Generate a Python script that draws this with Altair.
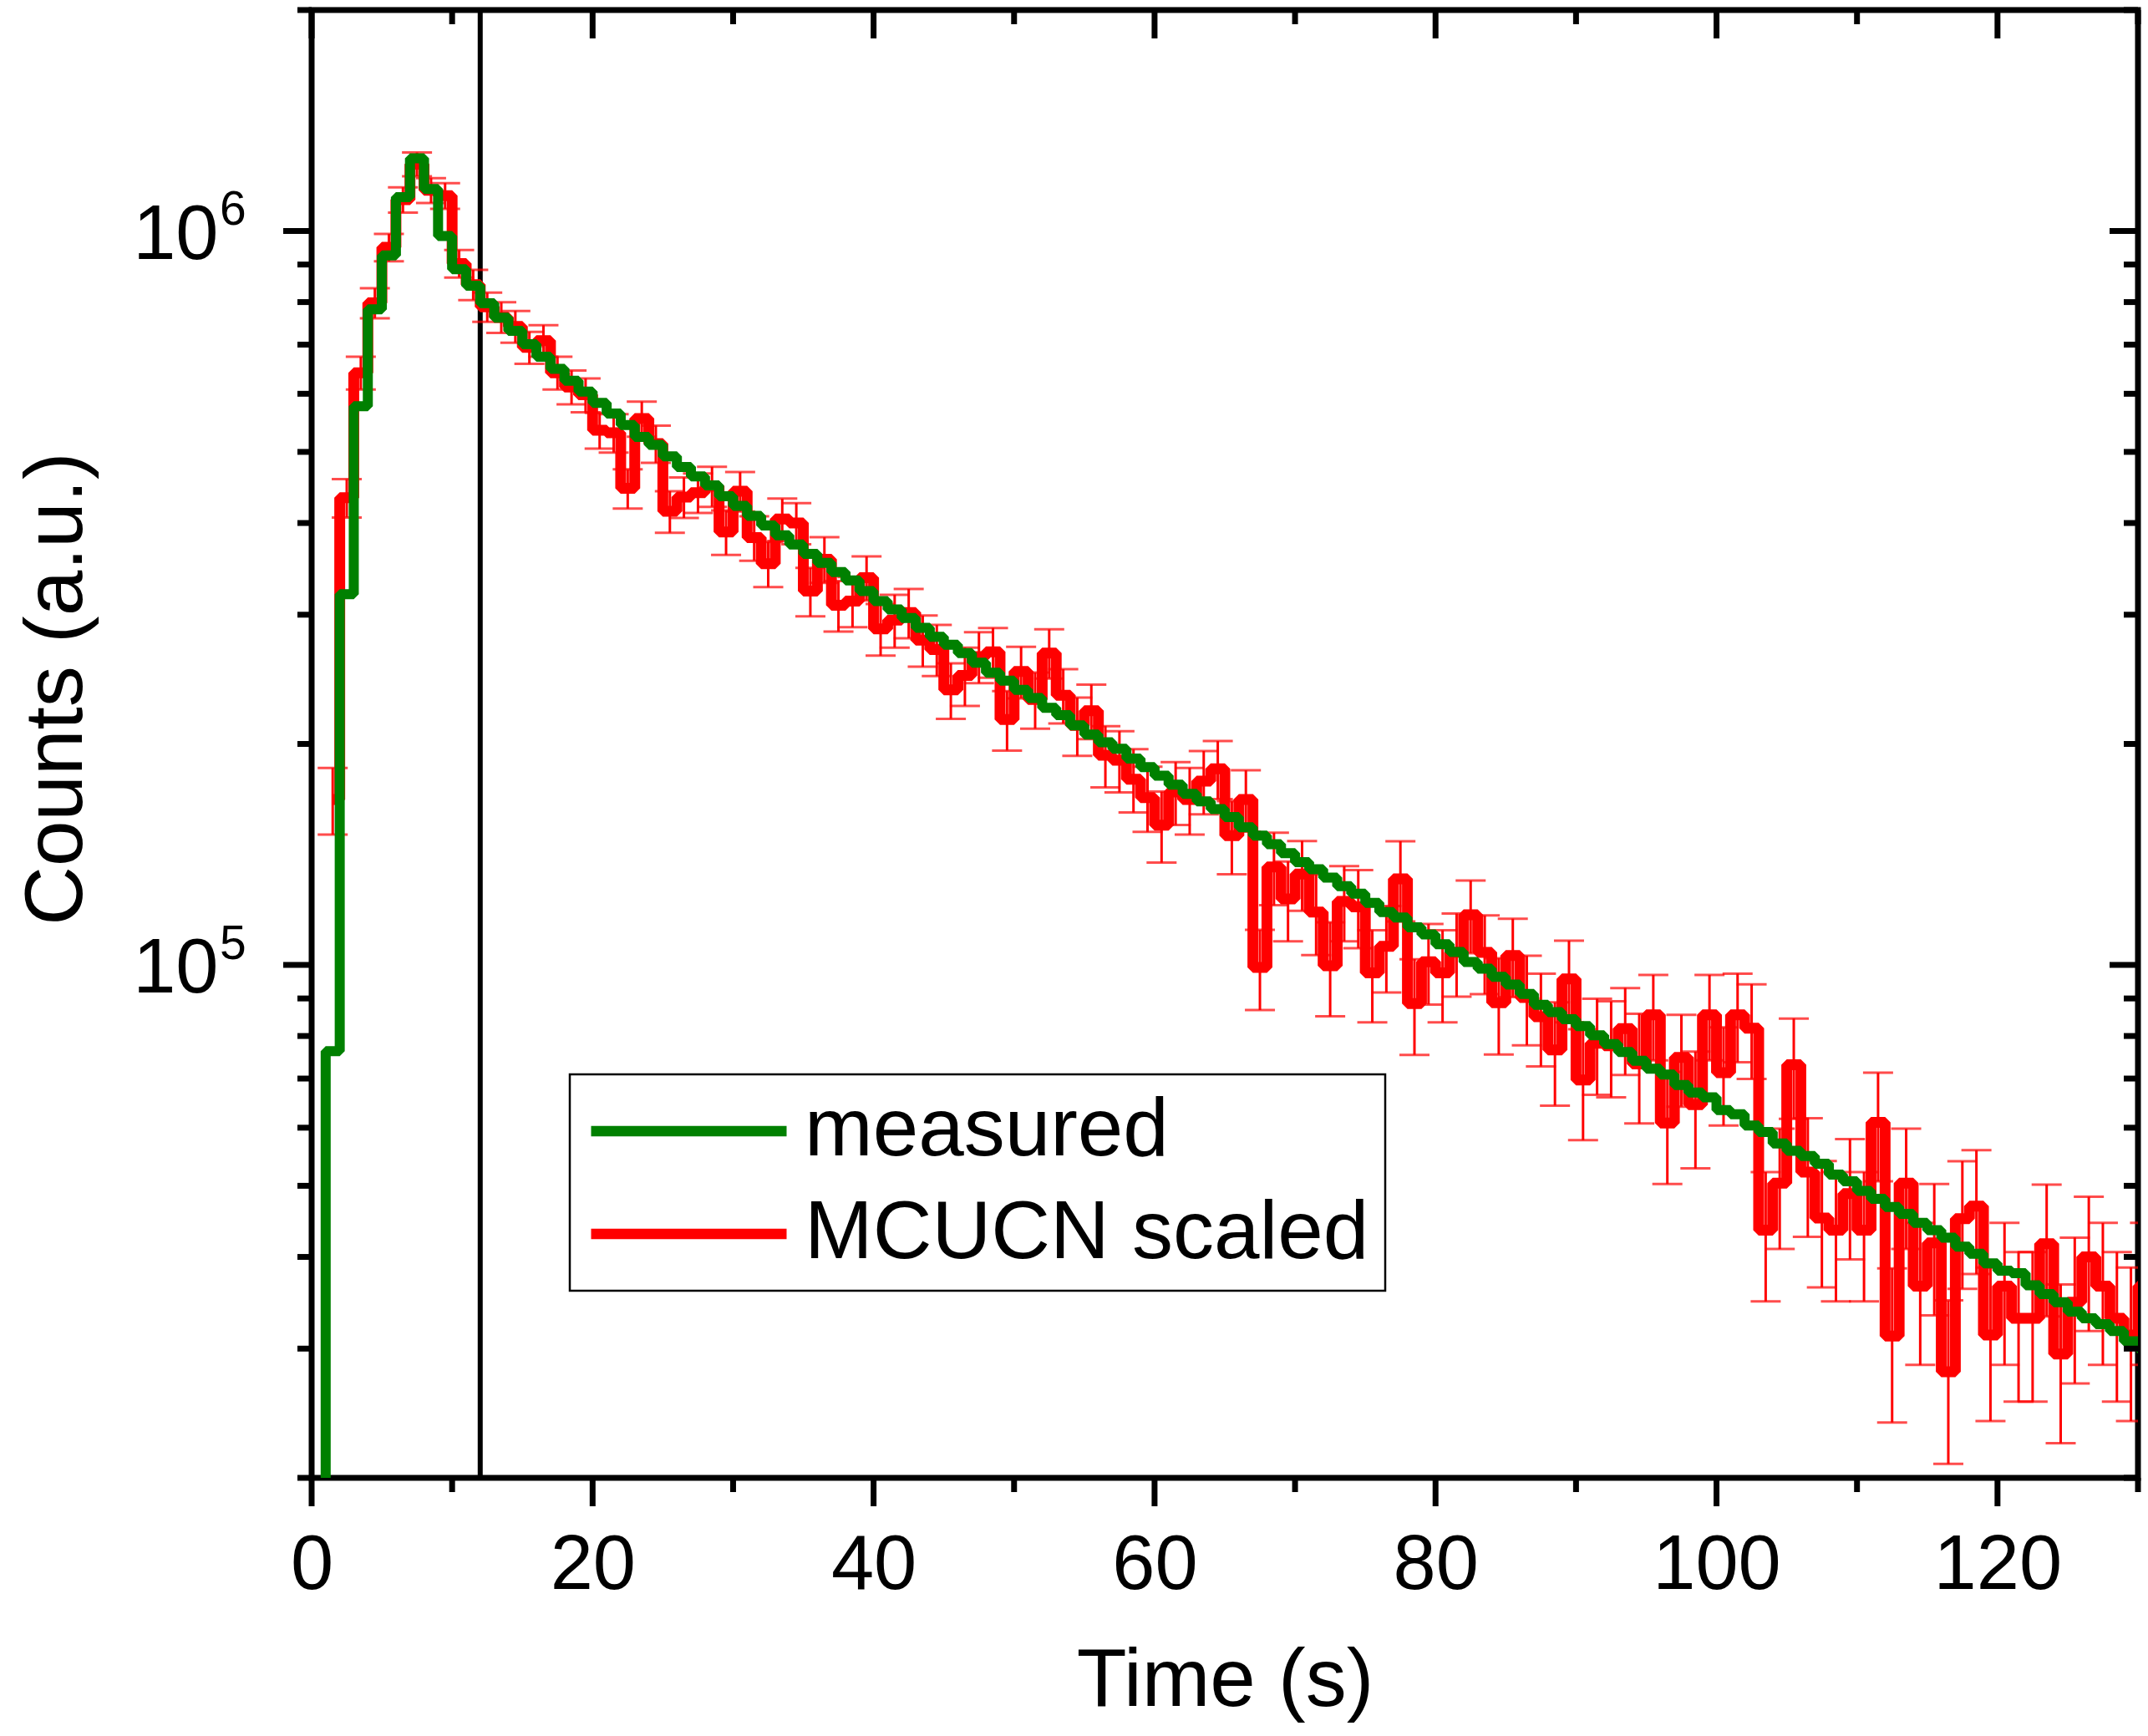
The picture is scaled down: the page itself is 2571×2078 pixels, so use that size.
import altair as alt
import pandas as pd

FONT = "Liberation Sans"

# ---------------- data ----------------
# 1-s time bins; the first measured bin starts at t = 0 s, the first simulated bin at t = 1 s
measured_first_bin = 0
measured_counts = [
    1.2e4, 7.63e4, 3.20e5, 5.77e5, 7.82e5, 9.26e5, 1.112e6, 1.256e6, 1.141e6, 9.84e5, 8.87e5, 8.42e5,
    7.97e5, 7.62e5, 7.31e5, 7.01e5, 6.74e5, 6.49e5, 6.25e5, 6.04e5, 5.83e5, 5.64e5,
    5.44e5, 5.24e5, 5.11e5, 4.93e5, 4.77e5, 4.63e5, 4.50e5, 4.35e5, 4.22e5, 4.09e5,
    3.97e5, 3.85e5, 3.74e5, 3.63e5, 3.53e5, 3.43e5, 3.34e5, 3.23e5, 3.13e5, 3.05e5,
    2.97e5, 2.88e5, 2.80e5, 2.73e5, 2.66e5, 2.58e5, 2.50e5, 2.44e5, 2.37e5, 2.31e5,
    2.24e5, 2.19e5, 2.12e5, 2.06e5, 2.01e5, 1.97e5, 1.91e5, 1.86e5, 1.81e5, 1.76e5,
    1.71e5, 1.67e5, 1.63e5, 1.59e5, 1.54e5, 1.50e5, 1.46e5, 1.42e5, 1.38e5, 1.35e5,
    1.315e5, 1.28e5, 1.25e5, 1.215e5, 1.18e5, 1.16e5, 1.125e5, 1.10e5, 1.067e5, 1.041e5,
    1.009e5, 9.88e4, 9.63e4, 9.40e4, 9.13e4, 8.82e4, 8.62e4, 8.43e4, 8.25e4, 8.02e4,
    7.80e4, 7.61e4, 7.40e4, 7.22e4, 7.09e4, 6.86e4, 6.70e4, 6.60e4, 6.34e4, 6.26e4,
    6.04e4, 5.92e4, 5.71e4, 5.58e4, 5.49e4, 5.36e4, 5.18e4, 5.07e4, 4.92e4, 4.80e4,
    4.68e4, 4.58e4, 4.45e4, 4.35e4, 4.25e4, 4.13e4, 4.04e4, 3.92e4, 3.83e4, 3.80e4,
    3.66e4, 3.56e4, 3.47e4, 3.37e4, 3.30e4, 3.24e4, 3.17e4, 3.07e4, 3.00e4,
]

simulated_first_bin = 1
simulated_counts = [
    1.68e5, 4.33e5, 6.41e5, 7.98e5, 9.50e5, 1.103e6, 1.233e6, 1.136e6, 1.117e6, 9.03e5,
    8.45e5, 7.88e5, 7.63e5, 7.41e5, 6.94e5, 7.09e5, 6.41e5, 6.13e5, 5.98e5, 5.35e5,
    5.31e5, 4.46e5, 5.55e5, 5.13e5, 4.15e5, 4.34e5, 4.40e5, 4.49e5, 3.89e5, 4.42e5,
    3.82e5, 3.52e5, 4.05e5, 4.00e5, 3.23e5, 3.57e5, 3.09e5, 3.13e5, 3.37e5, 2.87e5,
    2.95e5, 3.02e5, 2.77e5, 2.69e5, 2.37e5, 2.48e5, 2.63e5, 2.67e5, 2.16e5, 2.51e5,
    2.30e5, 2.66e5, 2.33e5, 2.12e5, 2.22e5, 1.93e5, 1.90e5, 1.79e5, 1.69e5, 1.55e5,
    1.72e5, 1.68e5, 1.78e5, 1.85e5, 1.50e5, 1.68e5, 9.92e4, 1.36e5, 1.23e5, 1.33e5,
    1.18e5, 9.97e4, 1.22e5, 1.20e5, 9.75e4, 1.06e5, 1.31e5, 8.86e4, 1.01e5, 9.75e4,
    1.04e5, 1.17e5, 1.04e5, 8.88e4, 1.03e5, 9.03e4, 8.50e4, 7.66e4, 9.57e4, 6.97e4,
    7.82e4, 7.76e4, 8.19e4, 7.33e4, 8.55e4, 6.09e4, 7.48e4, 6.45e4, 8.55e4, 7.13e4,
    8.55e4, 8.20e4, 4.35e4, 5.04e4, 7.31e4, 5.22e4, 4.52e4, 4.35e4, 4.88e4, 4.35e4,
    6.10e4, 3.12e4, 5.04e4, 3.65e4, 4.18e4, 2.79e4, 4.51e4, 4.69e4, 3.13e4, 3.65e4,
    3.30e4, 3.30e4, 4.17e4, 2.95e4, 3.47e4, 4.00e4, 3.65e4, 3.30e4, 3.13e4, 3.65e4,
]
simulated_errors = [
    1.75e4, 2.6e4, 3.3e4, 3.75e4, 4.1e4, 4.4e4, 4.6e4, 4.45e4, 4.5e4, 3.9e4,
    4.0e4, 3.6e4, 3.66e4, 3.7e4, 3.47e4, 3.5e4, 3.3e4, 3.25e4, 3.17e4, 3.0e4,
    3.2e4, 2.75e4, 3.05e4, 3.0e4, 2.7e4, 2.76e4, 2.72e4, 2.82e4, 2.71e4, 2.73e4,
    2.66e4, 2.48e4, 2.68e4, 2.58e4, 2.45e4, 2.55e4, 2.45e4, 2.45e4, 2.32e4, 2.32e4,
    2.44e4, 2.33e4, 2.22e4, 2.15e4, 2.06e4, 2.26e4, 2.1e4, 2.08e4, 2.01e4, 2.03e4,
    2.02e4, 2.05e4, 1.98e4, 1.93e4, 1.89e4, 1.85e4, 1.82e4, 1.77e4, 1.72e4, 1.72e4,
    1.69e4, 1.75e4, 1.76e4, 1.68e4, 1.71e4, 1.61e4, 1.24e4, 1.54e4, 1.53e4, 1.45e4,
    1.49e4, 1.46e4, 1.43e4, 1.46e4, 1.40e4, 1.43e4, 1.64e4, 1.32e4, 1.27e4, 1.40e4,
    1.35e4, 1.33e4, 1.28e4, 1.33e4, 1.26e4, 1.26e4, 1.23e4, 1.23e4, 1.22e4, 1.20e4,
    1.17e4, 1.16e4, 1.11e4, 1.25e4, 1.14e4, 1.06e4, 1.07e4, 1.17e4, 1.14e4, 1.09e4,
    1.18e4, 1.21e4, 8.7e3, 9.4e3, 1.14e4, 9.6e3, 8.85e3, 8.7e3, 9.1e3, 8.7e3,
    1.03e4, 7.4e3, 9.4e3, 8.0e3, 8.5e3, 7.0e3, 8.9e3, 9.0e3, 7.4e3, 8.0e3,
    7.6e3, 7.6e3, 8.5e3, 7.2e3, 7.8e3, 8.3e3, 8.0e3, 7.6e3, 7.4e3, 8.0e3,
]

series_names = ["measured", "MCUCN scaled"]
series_colors = ["#008000", "#ff0000"]

marker_time = [12]
x_major_ticks = [0, 20, 40, 60, 80, 100, 120]
x_minor_ticks = [10, 30, 50, 70, 90, 110, 130]
y_major_ticks = [1e5, 1e6]
y_minor_ticks = [2e4, 3e4, 4e4, 5e4, 6e4, 7e4, 8e4, 9e4,
                 2e5, 3e5, 4e5, 5e5, 6e5, 7e5, 8e5, 9e5, 2e6]
y_label_values = [1e5, 1e6]
y_label_exponents = ["5", "6"]

# ---------------- tables ----------------
meas_df = pd.DataFrame({
    "t": [measured_first_bin + i + 0.5 for i in range(len(measured_counts))],
    "counts": measured_counts,
    "series": series_names[0],
})
sim_df = pd.DataFrame({
    "t": [simulated_first_bin + i + 0.5 for i in range(len(simulated_counts))],
    "counts": simulated_counts,
    "err": simulated_errors,
    "series": series_names[1],
})
sim_df["lo"] = sim_df["counts"] - sim_df["err"]
sim_df["hi"] = sim_df["counts"] + sim_df["err"]
lines_df = pd.concat([sim_df[["t", "counts", "series"]], meas_df], ignore_index=True)

W, H = 2186, 1757
MAJ, MIN, TW = 34, 17, 7

xs = alt.Scale(domain=[0, 130], nice=False, zero=False)
ys = alt.Scale(type="log", domain=[2e4, 2e6], nice=False)

x_axis = alt.Axis(
    values=x_major_ticks, title="Time (s)", domain=False, grid=False,
    tickSize=0, labelPadding=59, labelFlush=False, labelOverlap=False,
    labelFontSize=92, labelFont=FONT, labelColor="black",
    titleFontSize=98, titleFont=FONT, titleFontWeight="normal", titleColor="black",
    titleY=272, titleBaseline="alphabetic",
)
y_axis = alt.Axis(
    values=y_label_values, labelExpr="'10'", title="Counts (a.u.)",
    domain=False, grid=False, tickSize=0, labelPadding=112, labelOffset=5,
    labelBaseline="middle", labelOverlap=False,
    labelFontSize=92, labelFont=FONT, labelColor="black",
    titleFontSize=98, titleFont=FONT, titleFontWeight="normal", titleColor="black",
    titleX=-276, titleY=812, titleBaseline="alphabetic", titleAlign="center", titleAngle=270,
)
X = lambda f: alt.X(f, scale=xs, axis=x_axis)
Y = lambda f: alt.Y(f, scale=ys, axis=y_axis)

legend = alt.Legend(
    title=None, orient="none", legendX=309, legendY=1274,
    symbolType="stroke", symbolSize=54756, symbolStrokeWidth=12.7,
    labelFontSize=98, labelFont=FONT, labelColor="black", labelOffset=15, labelLimit=0,
    clipHeight=98, rowPadding=25, padding=19, strokeColor="black", fillColor="white",
)
color = alt.Color("series:N", scale=alt.Scale(domain=series_names, range=series_colors), legend=legend)

vline = alt.Chart(pd.DataFrame({"t": marker_time})).mark_rule(color="black", strokeWidth=6).encode(x=X("t:Q"))

errbars = alt.Chart(sim_df).mark_errorbar(
    color="#ff0000", ticks=True, size=36, thickness=3, clip=True
).encode(x=X("t:Q"), y=Y("lo:Q"), y2="hi:Q")

red_line = alt.Chart(lines_df).transform_filter(
    alt.datum.series == series_names[1]
).mark_line(interpolate="step", strokeWidth=13, clip=True, strokeJoin="bevel").encode(
    x=X("t:Q"), y=Y("counts:Q"), color=color)

green_line = alt.Chart(lines_df).transform_filter(
    alt.datum.series == series_names[0]
).mark_line(interpolate="step", strokeWidth=12, clip=True, strokeJoin="bevel").encode(
    x=X("t:Q"), y=Y("counts:Q"), color=color)

xmaj = pd.DataFrame({"t": x_major_ticks})
xmin = pd.DataFrame({"t": x_minor_ticks})
ymaj = pd.DataFrame({"v": y_major_ticks})
ymin = pd.DataFrame({"v": y_minor_ticks})

def xtick(df, y0, y1):
    return alt.Chart(df).mark_rule(color="black", strokeWidth=TW).encode(
        x=X("t:Q"), y=alt.value(y0), y2=alt.value(y1))

def ytick(df, x0, x1):
    return alt.Chart(df).mark_rule(color="black", strokeWidth=TW).encode(
        y=Y("v:Q"), x=alt.value(x0), x2=alt.value(x1))

ticks = [
    xtick(xmaj, H, H + MAJ), xtick(xmin, H, H + MIN),      # bottom, outward
    xtick(xmaj, 0, MAJ), xtick(xmin, 0, MIN),              # top, inward
    ytick(ymaj, -MAJ, 0), ytick(ymin, -MIN, 0),            # left, outward
    ytick(ymaj, W - MAJ, W), ytick(ymin, W - MIN, W),      # right, inward
]

sup = alt.Chart(pd.DataFrame({"v": y_label_values, "s": y_label_exponents})).mark_text(
    align="left", baseline="alphabetic", fontSize=57, font=FONT, color="black", dy=-7
).encode(x=alt.value(-110), y=Y("v:Q"), text="s:N")

chart = alt.layer(vline, errbars, red_line, green_line, *ticks, sup).properties(
    width=W, height=H,
    autosize=alt.AutoSizeParams(type="none"),
    padding={"left": 365, "top": 4, "right": 4, "bottom": 293},
).configure(font=FONT).configure_view(stroke="black", strokeWidth=7).configure_legend(strokeWidth=2.5)

chart.save("out.html", embed_options={"renderer": "svg", "actions": False})
